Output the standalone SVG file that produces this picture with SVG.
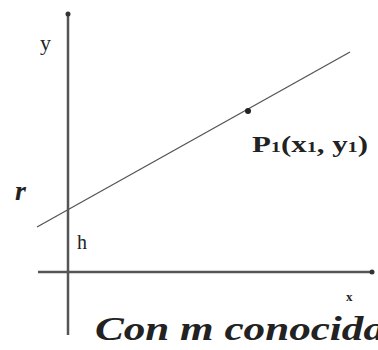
<svg xmlns="http://www.w3.org/2000/svg" width="378" height="350" viewBox="0 0 378 350">
<style>
.axis{stroke:#555;stroke-width:2.5;fill:none}
.line{stroke:#555;stroke-width:1.3;fill:none}
.t{font-family:"Liberation Serif","Times New Roman",serif;fill:#222}
</style>
<rect width="378" height="350" fill="#fff"/>
<g id="axes">
<line class="axis" x1="68" y1="14" x2="68" y2="335"/>
<circle cx="68" cy="14" r="2.5" fill="#333"/>
<line class="axis" x1="38" y1="272" x2="372" y2="272"/>
<circle cx="372" cy="272" r="2.5" fill="#333"/>
</g>
<g id="connectors">
<line class="line" x1="37" y1="227" x2="350" y2="52"/>
</g>
<g id="p1">
<circle cx="248" cy="111" r="3" fill="#222"/>
<text class="t" x="252" y="152" font-size="23" font-weight="bold" textLength="116" lengthAdjust="spacingAndGlyphs">P<tspan font-size="15">1</tspan>(x<tspan font-size="15">1</tspan>, y<tspan font-size="15">1</tspan>)</text>
</g>
<g id="labels">
<text class="t" x="40" y="50" font-size="22">y</text>
<text class="t" x="15" y="200" font-size="28" font-weight="bold" font-style="italic">r</text>
<text class="t" x="77" y="249" font-size="20">h</text>
<text class="t" x="346" y="301" font-size="13" font-weight="bold">x</text>
<text class="t" x="95" y="340" font-size="34" font-weight="bold" font-style="italic" textLength="290" lengthAdjust="spacingAndGlyphs">Con m conocida</text>
</g>
</svg>
